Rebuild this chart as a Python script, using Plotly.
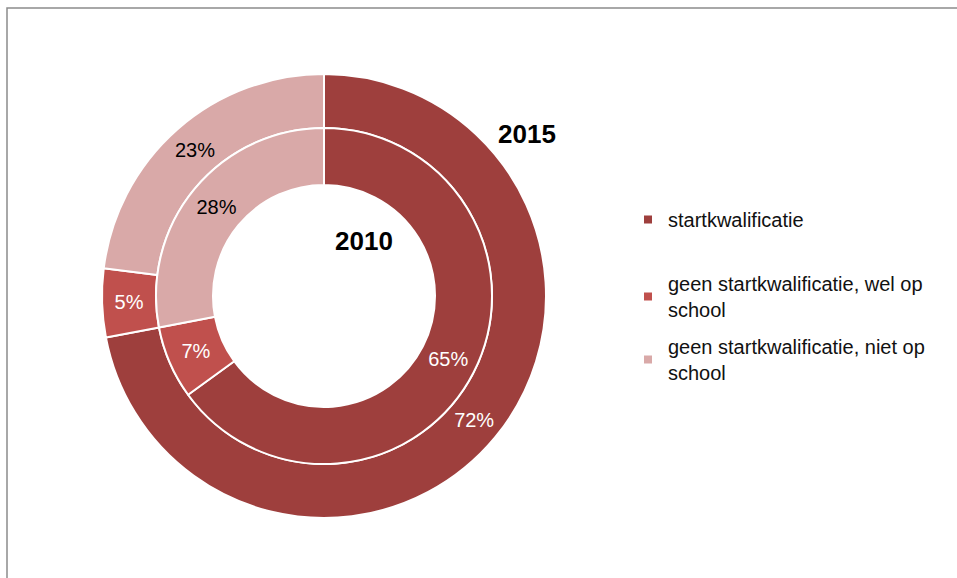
import plotly.graph_objects as go

categories = ["startkwalificatie",
              "geen startkwalificatie, wel op school",
              "geen startkwalificatie, niet op school"]
legend_labels = ["startkwalificatie",
                 "geen startkwalificatie, wel op<br>school",
                 "geen startkwalificatie, niet op<br>school"]
values_2015 = [72, 5, 23]
values_2010 = [65, 7, 28]
colors = ["#9E3F3D", "#C0504D", "#D9A9A8"]
text_colors = ["white", "white", "black"]

W, H = 957, 578
cx, cy = 324, 296
R_out, R_mid, R_in = 222, 168, 111
FONT = "Liberation Sans, Arial"

def dom(r):
    return dict(x=[(cx - r) / W, (cx + r) / W], y=[1 - (cy + r) / H, 1 - (cy - r) / H])

fig = go.Figure()
for vals, r_o, r_i in [(values_2015, R_out, R_mid), (values_2010, R_mid, R_in)]:
    fig.add_trace(go.Pie(
        labels=categories, values=vals, sort=False, direction="clockwise", rotation=0,
        hole=r_i / r_o, domain=dom(r_o),
        marker=dict(colors=colors, line=dict(color="white", width=2)),
        texttemplate="%{value}%", textposition="inside", insidetextorientation="horizontal",
        textfont=dict(family=FONT, size=20, color=text_colors),
        showlegend=False, hoverinfo="label+value"))

legend_names = ["legend", "legend2", "legend3"]
legend_tops = [200, 264, 327]
for lab, col, ln in zip(legend_labels, colors, legend_names):
    fig.add_trace(go.Scatter(x=[None], y=[None], mode="markers", name=lab,
                             marker=dict(symbol="square", size=8, color=col),
                             legend=ln, showlegend=True, hoverinfo="skip"))

legend_common = dict(xanchor="left", yanchor="top", bgcolor="rgba(0,0,0,0)",
                     font=dict(family=FONT, size=20, color="#111"),
                     itemclick=False, itemdoubleclick=False)
layout_legends = {}
for ln, top in zip(legend_names, legend_tops):
    layout_legends[ln] = dict(x=628 / W, y=1 - top / H, **legend_common)

fig.update_layout(
    width=W, height=H, margin=dict(l=0, r=0, t=0, b=0),
    paper_bgcolor="white", plot_bgcolor="white",
    xaxis=dict(visible=False), yaxis=dict(visible=False),
    annotations=[
        dict(text="<b>2015</b>", x=527 / W, y=1 - 134 / H, xref="paper", yref="paper",
             xanchor="center", yanchor="middle",
             showarrow=False, font=dict(family=FONT, size=26, color="black")),
        dict(text="<b>2010</b>", x=364 / W, y=1 - 241 / H, xref="paper", yref="paper",
             xanchor="center", yanchor="middle",
             showarrow=False, font=dict(family=FONT, size=26, color="black")),
    ],
    shapes=[dict(type="rect", xref="paper", yref="paper", x0=7 / W, x1=1.2, y0=-0.2, y1=1 - 8 / H,
                 line=dict(color="#8c8c8c", width=1.5), fillcolor="rgba(0,0,0,0)", layer="below")],
    **layout_legends,
)

fig.write_html("out.html", config={"displayModeBar": False},
               post_script="document.body.style.margin='0';document.body.style.overflow='hidden';")
